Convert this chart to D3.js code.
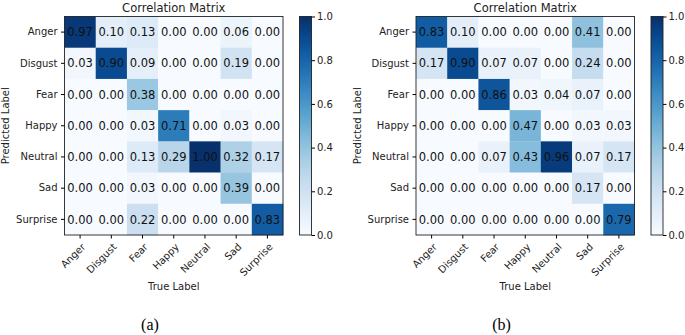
<!DOCTYPE html>
<html>
<head>
<meta charset="utf-8">
<script src="https://cdn.jsdelivr.net/npm/d3@7"></script>
<style>
  body { margin: 0; background: #fff; }
  svg { display: block; }
  text { font-family: "DejaVu Sans", sans-serif; }
  text.caption { font-family: "Liberation Serif", serif; }
  .tick text { fill: #222; }
</style>
</head>
<body>
<svg id="chart" width="685" height="335"></svg>
<script>
// class labels (rows = predicted, columns = true)
var labels = ["Anger", "Disgust", "Fear", "Happy", "Neutral", "Sad", "Surprise"];

var matrixA = [
  [0.97, 0.10, 0.13, 0.00, 0.00, 0.06, 0.00],
  [0.03, 0.90, 0.09, 0.00, 0.00, 0.19, 0.00],
  [0.00, 0.00, 0.38, 0.00, 0.00, 0.00, 0.00],
  [0.00, 0.00, 0.03, 0.71, 0.00, 0.03, 0.00],
  [0.00, 0.00, 0.13, 0.29, 1.00, 0.32, 0.17],
  [0.00, 0.00, 0.03, 0.00, 0.00, 0.39, 0.00],
  [0.00, 0.00, 0.22, 0.00, 0.00, 0.00, 0.83]
];

var matrixB = [
  [0.83, 0.10, 0.00, 0.00, 0.00, 0.41, 0.00],
  [0.17, 0.90, 0.07, 0.07, 0.00, 0.24, 0.00],
  [0.00, 0.00, 0.86, 0.03, 0.04, 0.07, 0.00],
  [0.00, 0.00, 0.00, 0.47, 0.00, 0.03, 0.03],
  [0.00, 0.00, 0.07, 0.43, 0.96, 0.07, 0.17],
  [0.00, 0.00, 0.00, 0.00, 0.00, 0.17, 0.00],
  [0.00, 0.00, 0.00, 0.00, 0.00, 0.00, 0.79]
];

var colorbarTicks = [0, 0.2, 0.4, 0.6, 0.8, 1.0];

var color = d3.scaleSequential(d3.interpolateBlues).domain([0, 1]);

var svg = d3.select("#chart");

// one gradient shared by both colorbars
var grad = svg.append("defs").append("linearGradient")
  .attr("id", "cbGrad")
  .attr("x1", 0).attr("y1", 1).attr("x2", 0).attr("y2", 0);
grad.selectAll("stop")
  .data(d3.range(0, 1.001, 0.05))
  .join("stop")
  .attr("offset", (d) => d)
  .attr("stop-color", (d) => color(d));

function drawPanel(matrix, offsetX, caption) {
  const left = 64.5, top = 16.5, size = 218.5;
  const g = svg.append("g").attr("transform", `translate(${offsetX}, 0)`);

  const x = d3.scaleBand().domain(labels).range([left, left + size]);
  const y = d3.scaleBand().domain(labels).range([top, top + size]);

  const cells = [];
  matrix.forEach((row, i) => row.forEach((v, j) => cells.push({ r: labels[i], c: labels[j], v: v })));

  g.selectAll("rect.cell")
    .data(cells)
    .join("rect")
    .attr("class", "cell")
    .attr("x", (d) => x(d.c))
    .attr("y", (d) => y(d.r))
    .attr("width", x.bandwidth() + 0.3)
    .attr("height", y.bandwidth() + 0.3)
    .attr("fill", (d) => color(d.v));

  g.selectAll("text.val")
    .data(cells)
    .join("text")
    .attr("class", "val")
    .attr("x", (d) => x(d.c) + x.bandwidth() / 2)
    .attr("y", (d) => y(d.r) + y.bandwidth() / 2)
    .attr("text-anchor", "middle")
    .attr("dy", "0.36em")
    .attr("font-size", "11.5px")
    .attr("fill", "#111")
    .text((d) => d.v.toFixed(2));

  // frame
  g.append("rect")
    .attr("x", left).attr("y", top)
    .attr("width", size).attr("height", size)
    .attr("fill", "none").attr("stroke", "#222").attr("stroke-width", 0.9);

  const yAxis = g.append("g")
    .attr("transform", `translate(${left}, 0)`)
    .call(d3.axisLeft(y).tickSize(3.5).tickPadding(3.5).tickSizeOuter(0));
  yAxis.select(".domain").remove();
  yAxis.selectAll("text").attr("font-size", "10px");

  const xAxis = g.append("g")
    .attr("transform", `translate(0, ${top + size})`)
    .call(d3.axisBottom(x).tickSize(3.5).tickSizeOuter(0));
  xAxis.select(".domain").remove();
  xAxis.selectAll("text")
    .attr("font-size", "10px")
    .attr("text-anchor", "end")
    .attr("x", 0).attr("y", 0)
    .attr("dy", "0.35em")
    .attr("transform", "translate(3.5, 10) rotate(-45)");

  g.append("text")
    .attr("x", left + size / 2).attr("y", 12)
    .attr("text-anchor", "middle")
    .attr("font-size", "11.5px")
    .attr("fill", "#222")
    .text("Correlation Matrix");

  g.append("text")
    .attr("transform", `translate(9, ${top + size / 2}) rotate(-90)`)
    .attr("text-anchor", "middle")
    .attr("font-size", "10px")
    .attr("fill", "#222")
    .text("Predicted Label");

  g.append("text")
    .attr("x", left + size / 2).attr("y", 290)
    .attr("text-anchor", "middle")
    .attr("font-size", "10px")
    .attr("fill", "#222")
    .text("True Label");

  // colorbar
  const cbX = 299.5, cbW = 12;
  const cy = d3.scaleLinear().domain([0, 1]).range([top + size, top]);
  g.append("rect")
    .attr("x", cbX).attr("y", top)
    .attr("width", cbW).attr("height", size)
    .attr("fill", "url(#cbGrad)")
    .attr("stroke", "#222").attr("stroke-width", 0.9);
  const cbAxis = g.append("g")
    .attr("transform", `translate(${cbX + cbW}, 0)`)
    .call(d3.axisRight(cy).tickValues(colorbarTicks).tickFormat(d3.format(".1f"))
      .tickSize(3.5).tickPadding(2).tickSizeOuter(0));
  cbAxis.select(".domain").remove();
  cbAxis.selectAll("text").attr("font-size", "10px");

  g.append("text")
    .attr("class", "caption")
    .attr("x", 150).attr("y", 330)
    .attr("text-anchor", "middle")
    .attr("font-size", "16px")
    .attr("fill", "#000")
    .text(caption);
}

drawPanel(matrixA, 0, "(a)");
drawPanel(matrixB, 351.5, "(b)");
</script>
</body>
</html>
